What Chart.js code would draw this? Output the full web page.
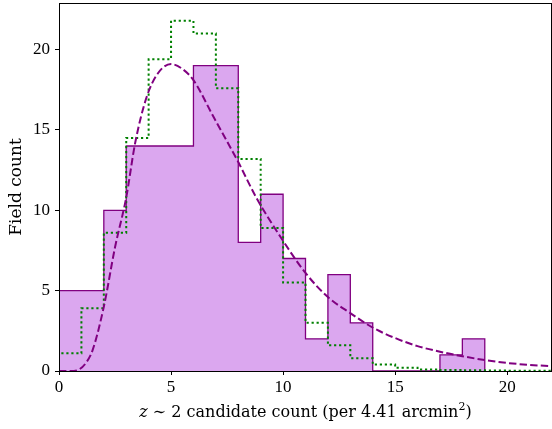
<!DOCTYPE html>
<html>
<head>
<meta charset="utf-8">
<script src="https://cdn.jsdelivr.net/npm/chart.js@4"></script>
<style>
  body { margin: 0; background: #fff; }
</style>
</head>
<body>
<canvas id="myChart" width="552" height="429"></canvas>
<script>
// histogram bins of width 1 starting at 0
var fieldCounts = [5, 5, 10, 14, 14, 14, 19, 19, 8, 11, 7, 2, 6, 3, 0, 0, 0, 1, 2];
// green dotted expected distribution, bins 0..21
var modelCounts = [1.1, 3.9, 8.6, 14.5, 19.4, 21.8, 21.0, 17.6, 13.2, 8.9, 5.5, 3.0, 1.6, 0.8, 0.4, 0.2, 0.1, 0.06, 0.04, 0.03, 0.02, 0.01];
// dashed fit curve
var fitX = [0, 0.5, 0.9, 1.2, 1.5, 2, 2.5, 3, 3.4, 3.9, 4.4, 5, 5.5, 6, 6.9, 8, 8.8, 10, 11, 12, 13, 14, 15, 16, 17, 18, 19, 20, 21, 22];
var fitY = [0, 0, 0.1, 0.5, 1.3, 4.0, 7.7, 10.8, 14.2, 17.0, 18.5, 19.1, 18.8, 18.1, 15.8, 13.0, 10.8, 8.1, 6.1, 4.6, 3.6, 2.7, 2.05, 1.55, 1.2, 0.92, 0.68, 0.5, 0.38, 0.3];
var xTicks = [0, 5, 10, 15, 20];
var yTicks = [0, 5, 10, 15, 20];

function stepPoints(vals) {
    var pts = [{x: 0, y: 0}];
    for (var i = 0; i < vals.length; i++) pts.push({x: i, y: vals[i]});
    pts.push({x: vals.length, y: 0});
    return pts;
}

var serif = "'Liberation Serif', 'DejaVu Serif', serif";
var titleFont = "'DejaVu Serif', serif";

var frame = {
    id: 'frame',
    afterDatasetsDraw: function(chart) {
        var a = chart.chartArea, c = chart.ctx;
        c.save();
        c.strokeStyle = '#000';
        c.lineWidth = 1;
        c.strokeRect(a.left + 0.5, a.top + 0.5, a.right - a.left - 1, a.bottom - a.top);
        c.restore();
    },
    afterDraw: function(chart) {
        // x axis title with italic z and superscript 2
        var c = chart.ctx;
        var parts = [
            ['z', 'italic 16px ' + titleFont, 0],
            [' \u223C 2 candidate count (per 4.41 arcmin', '16px ' + titleFont, 0],
            ['2', '11px ' + titleFont, -7],
            [')', '16px ' + titleFont, 0]
        ];
        c.save();
        c.fillStyle = '#000';
        c.textBaseline = 'alphabetic';
        var w = 0;
        parts.forEach(function(p) { c.font = p[1]; w += c.measureText(p[0]).width; });
        var x = (chart.chartArea.left + chart.chartArea.right) / 2 - w / 2;
        parts.forEach(function(p) {
            c.font = p[1];
            c.fillText(p[0], x, 417 + p[2]);
            x += c.measureText(p[0]).width;
        });
        c.restore();
    }
};

var ctx = document.getElementById('myChart').getContext('2d');
var myChart = new Chart(ctx, {
    type: 'line',
    data: {
        datasets: [{
            label: 'fit',
            data: fitX.map(function(x, i) { return {x: x, y: fitY[i]}; }),
            borderColor: '#800080',
            borderWidth: 2,
            borderDash: [7.4, 3.2],
            cubicInterpolationMode: 'monotone',
            pointRadius: 0,
            fill: false,
            order: 0
        }, {
            label: 'model',
            data: stepPoints(modelCounts),
            borderColor: '#008000',
            borderWidth: 2,
            borderDash: [2.2, 2.8],
            stepped: 'before',
            pointRadius: 0,
            fill: false,
            order: 1
        }, {
            label: 'fields',
            data: stepPoints(fieldCounts),
            borderColor: '#800080',
            backgroundColor: '#dba7ef',
            borderWidth: 1.3,
            stepped: 'before',
            pointRadius: 0,
            fill: 'origin',
            order: 2
        }]
    },
    options: {
        responsive: false,
        animation: false,
        layout: { padding: { top: 3, right: 0, left: 0, bottom: 0 } },
        plugins: { legend: { display: false }, tooltip: { enabled: false } },
        scales: {
            x: {
                type: 'linear',
                min: 0,
                max: 22,
                afterBuildTicks: function(s) { s.ticks = xTicks.map(function(v) { return {value: v}; }); },
                afterFit: function(s) { s.height = 58; s.paddingLeft = 0; s.paddingRight = 0; },
                grid: { drawOnChartArea: false, drawTicks: true, tickLength: 4, color: '#000' },
                border: { display: true, color: '#000' },
                ticks: { color: '#000', font: { family: serif, size: 17 }, padding: 2, maxRotation: 0 }
            },
            y: {
                min: 0,
                max: 22.9,
                afterBuildTicks: function(s) { s.ticks = yTicks.map(function(v) { return {value: v}; }); },
                afterFit: function(s) { s.width = 59; s.paddingTop = 0; s.paddingBottom = 0; },
                grid: { drawOnChartArea: false, drawTicks: true, tickLength: 4, color: '#000' },
                border: { display: true, color: '#000' },
                ticks: { color: '#000', font: { family: serif, size: 17 }, padding: 5 },
                title: { display: true, text: 'Field count', color: '#000', font: { family: titleFont, size: 17 }, padding: { top: 6, bottom: 0 } }
            }
        }
    },
    plugins: [frame]
});
</script>
</body>
</html>
